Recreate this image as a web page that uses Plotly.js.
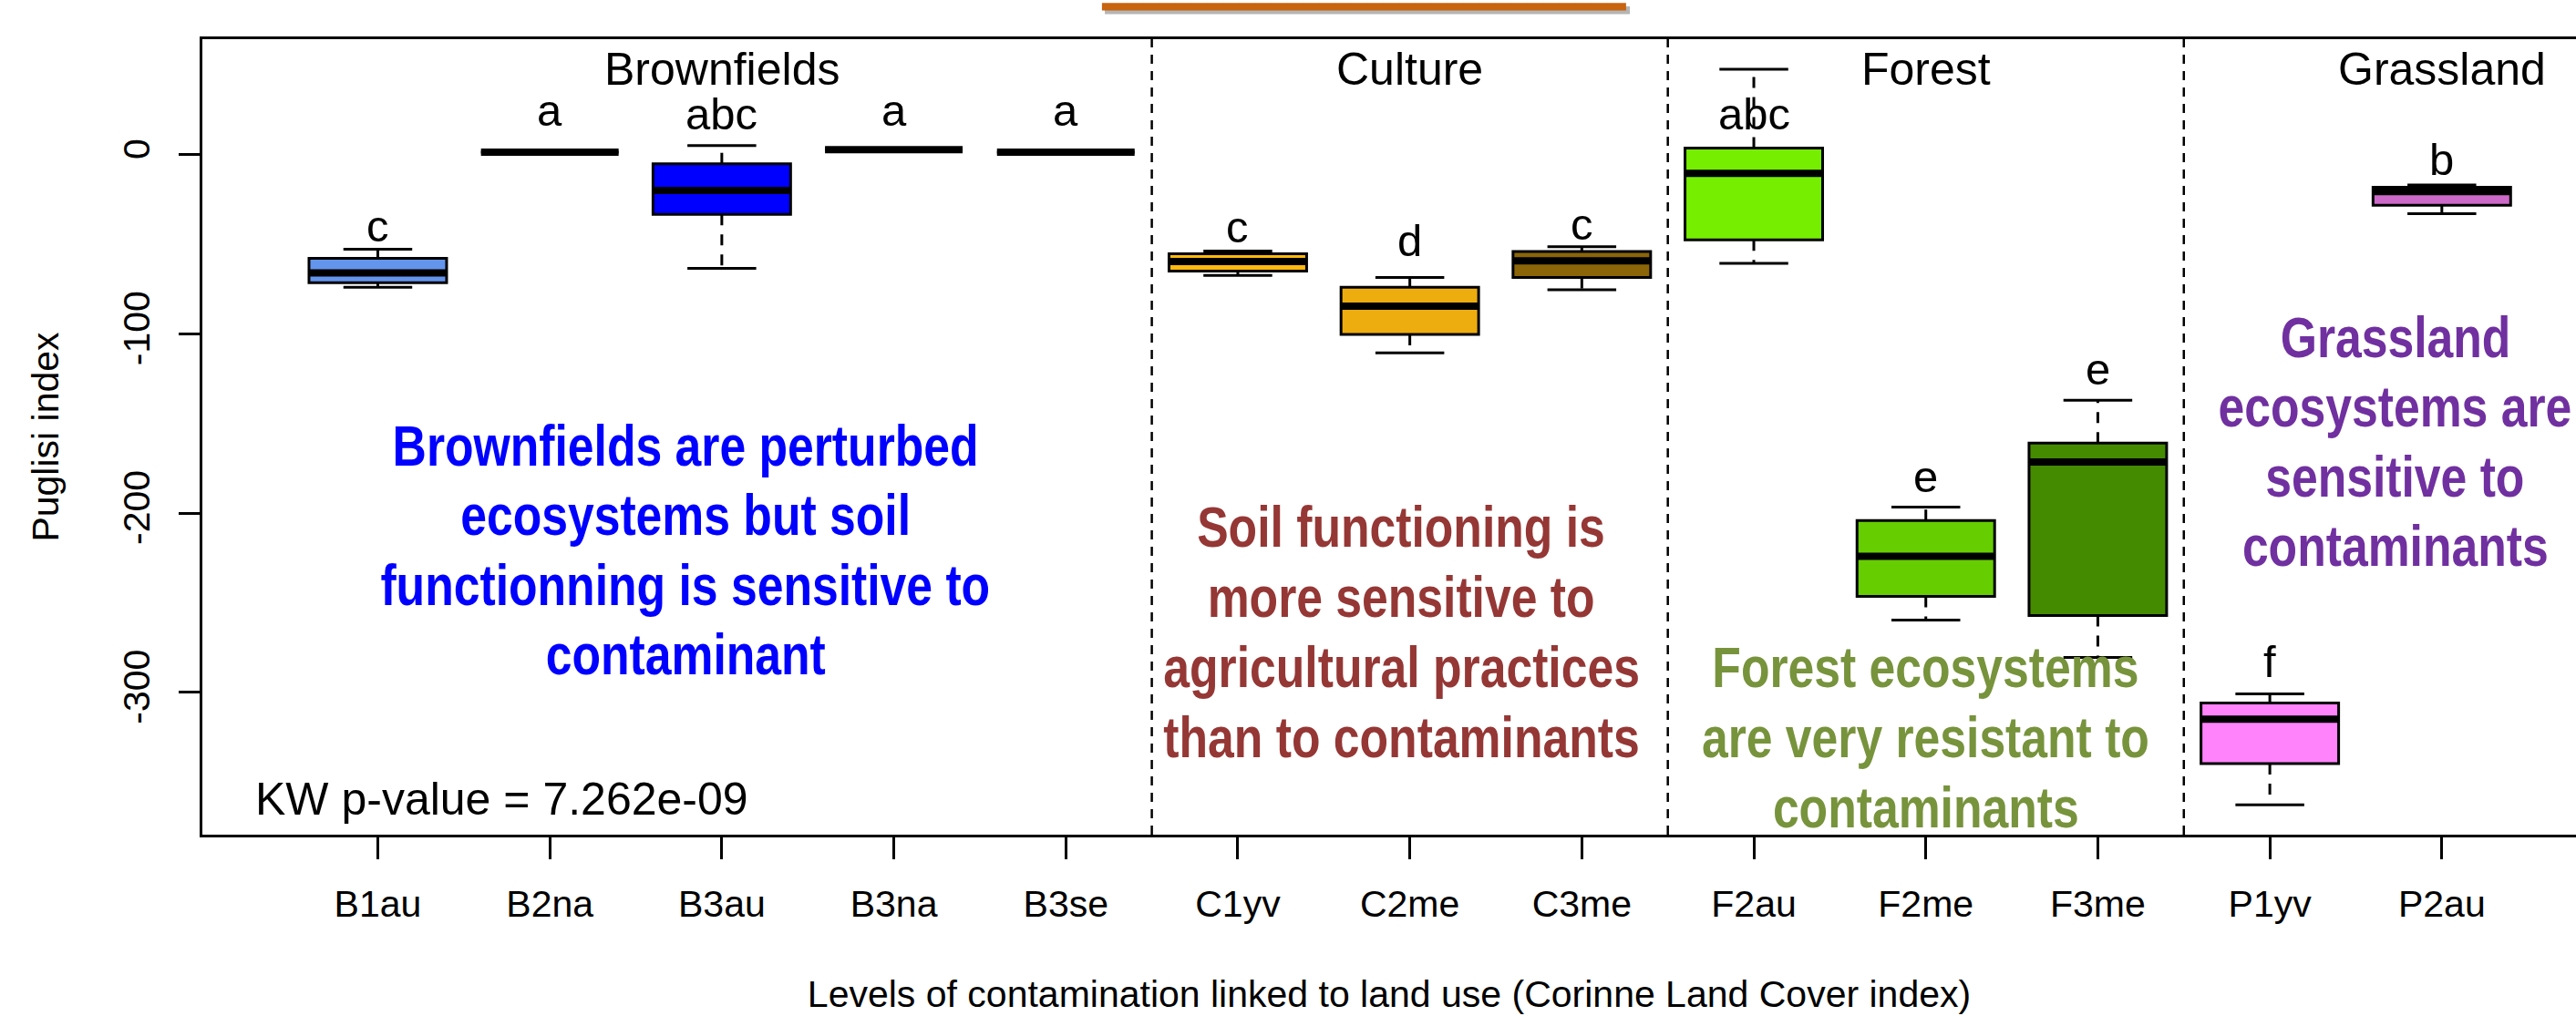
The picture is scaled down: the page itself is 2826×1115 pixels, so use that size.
<!DOCTYPE html>
<html>
<head>
<meta charset="utf-8">
<script src="https://cdn.plot.ly/plotly-3.0.1.min.js"></script>
<style>
  html, body { margin: 0; padding: 0; background: #ffffff; }
  #chart { width: 2826px; height: 1115px; }
</style>
</head>
<body>
<div id="chart"></div>
<script>
// ---------------- DATA ----------------
const categories = ['B1au','B2na','B3au','B3na','B3se','C1yv','C2me','C3me','F2au','F2me','F3me','P1yv','P2au'];
const lowerWhisker = [-74.0, 1.3, -63.5, 2.7, 1.3, -67.4, -110.6, -75.4, -60.6, -259.7, -280.5, -362.7, -32.9];
const q1Values     = [-71.4, 1.3, -33.3, 2.7, 1.3, -65.0, -100.3, -68.6, -47.6, -246.5, -257.2, -339.8, -28.2];
const medianValues = [-66.0, 1.3, -20.0, 2.7, 1.3, -59.6,  -84.5, -59.2, -10.4, -224.1, -171.5, -315.0, -20.6];
const q3Values     = [-57.9, 1.3,  -5.1, 2.7, 1.3, -55.3,  -74.0, -54.1,   3.6, -204.1, -160.9, -305.9, -18.2];
const upperWhisker = [-52.8, 1.3,   5.1, 2.7, 1.3, -53.8,  -68.6, -51.4,  47.6, -196.6, -137.1, -300.8, -16.9];
const boxColors = ['#6495ED','#8B7355','#0000FF','#8B7355','#8B7355','#FFB90F','#EEAD0E','#8B6508','#76EE00','#66CD00','#458B00','#FF83FA','#CD69C9'];

// significance letters (Kruskal-Wallis post-hoc groups)
const letters = ['c','a','abc','a','a','c','d','c','abc','e','e','f','b'];
const letterY = [-39.6, 24.8, 22.7, 24.8, 24.8, -40.4, -47.7, -38.8, 22.7, -179.5, -119.8, -282.9, -2.7];

// land-use groups
const groupNames = ['Brownfields','Culture','Forest','Grassland'];
const groupLabelX = [3, 7, 10, 13];
const groupLabelY = 47.4;
const separators = [5.5, 8.5, 11.5];

// y axis ticks
const yTickVals = [0, -100, -200, -300];
const yTickText = ['0', '-100', '-200', '-300'];

// commentary texts
const blueLines   = ['Brownfields are perturbed', 'ecosystems but soil', 'functionning is sensitive to', 'contaminant'];
const blueX = 2.79;
const blueY = [-162.1, -200.8, -240.1, -278.7];
const redLines    = ['Soil functioning is', 'more sensitive to', 'agricultural practices', 'than to contaminants'];
const redX = 6.95;
const redY = [-207.8, -246.9, -286.1, -325.2];
const greenLines  = ['Forest ecosystems', 'are very resistant to', 'contaminants'];
const greenX = 10.0;
const greenY = [-286.1, -325.2, -364.0];
const purpleLines = ['Grassland', 'ecosystems are', 'sensitive to', 'contaminants'];
const purpleX = 12.73;
const purpleY = [-101.7, -140.4, -179.4, -218.4];

const pValueText = 'KW p-value = 7.262e-09';
const pValueX = 0.275;
const pValueY = -359.5;

// ---------------- STYLE ----------------
const regularFont = 'Liberation Sans, Arial, sans-serif';
const boldFont = 'Liberation Sans, Arial, sans-serif';
const narrowFactor = 0.82;   // Arial Narrow is 82% of Arial's width
const boxWidth = 0.8;
const capHalf = 0.2;

const positions = categories.map((c, i) => i + 1);

// ---------------- TRACES ----------------
const traces = [];
categories.forEach((cat, i) => {
  traces.push({
    type: 'box',
    name: cat,
    x: [positions[i]],
    q1: [q1Values[i]],
    median: [medianValues[i]],
    q3: [q3Values[i]],
    lowerfence: [q1Values[i]],
    upperfence: [q3Values[i]],
    width: boxWidth,
    whiskerwidth: 0,
    boxpoints: false,
    fillcolor: boxColors[i],
    line: { color: '#000000', width: 3 },
    hoverinfo: 'skip'
  });
});

// dashed whiskers
const wx = [], wy = [];
positions.forEach((p, i) => {
  wx.push(p, p, null, p, p, null);
  wy.push(q3Values[i], upperWhisker[i], null, q1Values[i], lowerWhisker[i], null);
});
traces.push({
  type: 'scatter', mode: 'lines', x: wx, y: wy, connectgaps: false,
  line: { color: '#000000', width: 3, dash: '12px,10px' }, hoverinfo: 'skip'
});

// whisker caps
const cx = [], cy = [];
positions.forEach((p, i) => {
  cx.push(p - capHalf, p + capHalf, null, p - capHalf, p + capHalf, null);
  cy.push(upperWhisker[i], upperWhisker[i], null, lowerWhisker[i], lowerWhisker[i], null);
});
traces.push({
  type: 'scatter', mode: 'lines', x: cx, y: cy, connectgaps: false,
  line: { color: '#000000', width: 3 }, hoverinfo: 'skip'
});

// thick medians
const mx = [], my = [];
positions.forEach((p, i) => {
  mx.push(p - boxWidth / 2, p + boxWidth / 2, null);
  my.push(medianValues[i], medianValues[i], null);
});
traces.push({
  type: 'scatter', mode: 'lines', x: mx, y: my, connectgaps: false,
  line: { color: '#000000', width: 8 }, hoverinfo: 'skip'
});

// ---------------- ANNOTATIONS ----------------
const annotations = [];
letters.forEach((t, i) => {
  annotations.push({ x: positions[i], y: letterY[i], xref: 'x', yref: 'y', text: t, showarrow: false,
    xanchor: 'center', yanchor: 'middle', font: { family: regularFont, size: 49, color: '#000000' } });
});
groupNames.forEach((g, i) => {
  annotations.push({ x: groupLabelX[i], y: groupLabelY, xref: 'x', yref: 'y', text: g, showarrow: false,
    xanchor: 'center', yanchor: 'middle', font: { family: regularFont, size: 50, color: '#000000' } });
});
const narrowIndices = new Set();
function addLines(lines, x, ys, color) {
  lines.forEach((t, i) => {
    narrowIndices.add(annotations.length);
    annotations.push({ x: x, y: ys[i], xref: 'x', yref: 'y', text: t, showarrow: false,
      xanchor: 'center', yanchor: 'middle',
      font: { family: boldFont, size: 63, color: color, weight: 'bold' } });
  });
}
addLines(blueLines, blueX, blueY, '#0000FF');
addLines(redLines, redX, redY, '#953735');
addLines(greenLines, greenX, greenY, '#77933C');
addLines(purpleLines, purpleX, purpleY, '#7030A0');
annotations.push({ x: pValueX, y: pValueY, xref: 'x', yref: 'y', text: pValueText, showarrow: false,
  xanchor: 'left', yanchor: 'middle', font: { family: regularFont, size: 50, color: '#000000' } });

// ---------------- SHAPES ----------------
const shapes = separators.map(s => ({
  type: 'line', xref: 'x', yref: 'paper', x0: s, x1: s, y0: 0, y1: 1,
  line: { color: '#000000', width: 2.5, dash: '10px,8px' }, layer: 'above'
}));
// decorative orange rule above the chart (slide element) with its shadow
shapes.push({ type: 'rect', xref: 'paper', yref: 'paper', x0: 0.3802, x1: 0.6014, y0: 1.0315, y1: 1.0412,
  fillcolor: 'rgba(120,120,120,0.55)', line: { width: 0 } });
shapes.push({ type: 'rect', xref: 'paper', yref: 'paper', x0: 0.379, x1: 0.5998, y0: 1.0362, y1: 1.0455,
  fillcolor: '#C8630F', line: { width: 0 } });

// ---------------- LAYOUT ----------------
const layout = {
  width: 2826, height: 1115,
  margin: { l: 222, r: 0, t: 43, b: 199, pad: 0 },
  paper_bgcolor: '#ffffff', plot_bgcolor: '#ffffff',
  showlegend: false,
  boxmode: 'overlay',
  font: { family: regularFont, color: '#000000' },
  xaxis: {
    range: [-0.02, 13.78],
    tickmode: 'array', tickvals: positions, ticktext: categories,
    ticks: 'outside', ticklen: 24, tickwidth: 3, tickcolor: '#000000',
    showline: true, linewidth: 3, linecolor: '#000000', mirror: true,
    showgrid: false, zeroline: false,
    tickfont: { family: regularFont, size: 41, color: '#000000' },
    ticklabelstandoff: 14,
    title: { text: 'Levels of contamination linked to land use (Corinne Land Cover index)',
             font: { family: regularFont, size: 41, color: '#000000' }, standoff: 63 }
  },
  yaxis: {
    range: [-379.4, 64.4],
    tickmode: 'array', tickvals: yTickVals, ticktext: yTickText,
    tickangle: -90,
    ticks: 'outside', ticklen: 23, tickwidth: 3, tickcolor: '#000000',
    showline: true, linewidth: 3, linecolor: '#000000', mirror: false,
    showgrid: false, zeroline: false,
    ticklabelstandoff: 16,
    tickfont: { family: regularFont, size: 41, color: '#000000' },
    title: { text: 'Puglisi index', font: { family: regularFont, size: 41, color: '#000000' }, standoff: 50 }
  },
  annotations: annotations,
  shapes: shapes
};

// condense the commentary lines horizontally, as Arial Narrow Bold does
function condense(gd) {
  gd.querySelectorAll('g.annotation').forEach(g => {
    const idx = Number(g.getAttribute('data-index'));
    if (!narrowIndices.has(idx)) return;
    const el = g.querySelector('text.annotation-text');
    if (!el) return;
    const natural = el.getComputedTextLength();
    el.setAttribute('textLength', (natural * narrowFactor).toFixed(1));
    el.setAttribute('lengthAdjust', 'spacingAndGlyphs');
  });
}

Plotly.newPlot('chart', traces, layout, { staticPlot: true, displayModeBar: false })
  .then(gd => { condense(gd); });
</script>
</body>
</html>
